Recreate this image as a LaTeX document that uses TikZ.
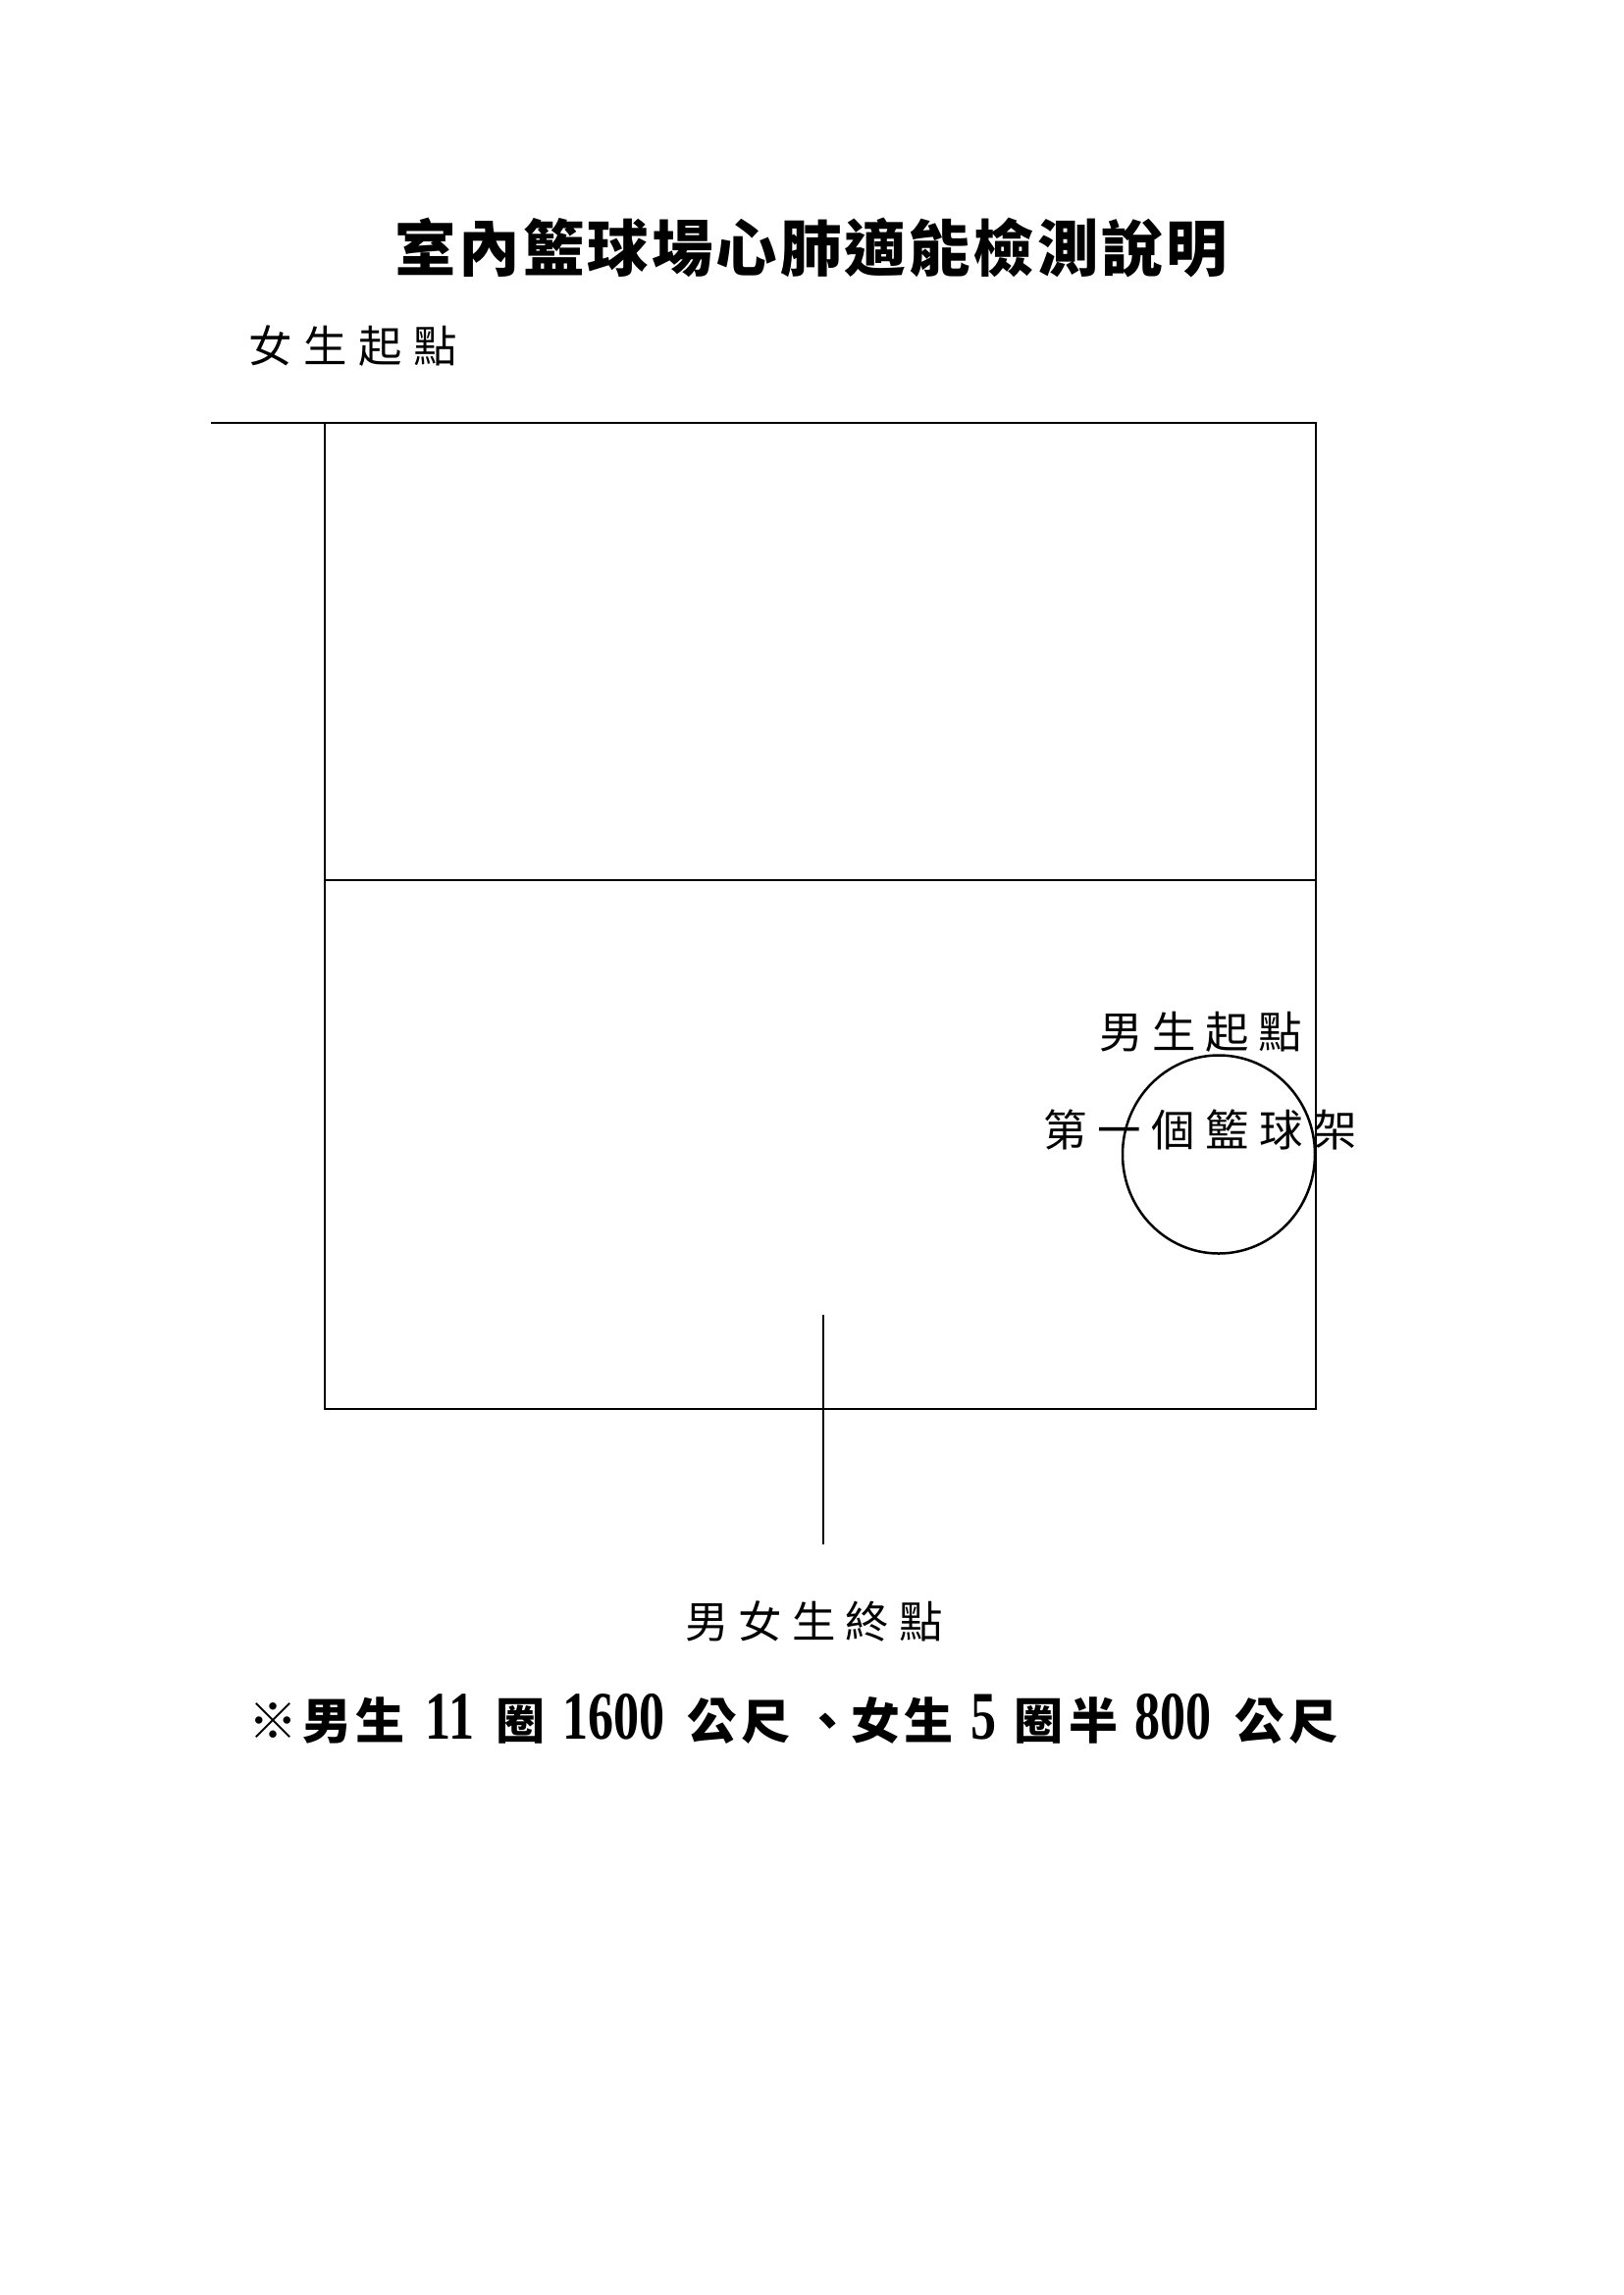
\documentclass[tikz,border=0pt]{standalone}
\usepackage{fontspec}
\newfontfamily\cjk{Noto Sans CJK TC}
\newfontfamily\digitfont{Liberation Serif}[FakeStretch=0.75]
\newdimen\px \px=0.36pt
\ExplSyntaxOn
\NewDocumentCommand\pitched{m m}{\tl_map_inline:nn {#2}{\makebox[#1]{##1}}}
\ExplSyntaxOff
\newcommand\pp[2]{\makebox[0pt]{#1}\hspace{#2\px}}
\newcommand\dg[1]{{\digitfont\bfseries\fontsize{25}{25}\selectfont #1}}
\tikzset{
  lbl/.style={inner sep=0pt, font=\cjk\fontsize{16}{16}\selectfont},
  titlelbl/.style={inner sep=0pt, font=\cjk\bfseries\fontsize{22.5}{22.5}\selectfont},
  notelbl/.style={inner sep=0pt, anchor=west, font=\cjk\bfseries\fontsize{18}{18}\selectfont},
  court/.style={line width=1pt, line cap=rect},
}
\begin{document}
\begin{tikzpicture}[x=0.36pt,y=-0.36pt]
\useasboundingbox (0,0) rectangle (1654,2339);
% court corners
\coordinate (tl) at (331,431);
\coordinate (tr) at (1341,431);
\coordinate (bl) at (331,1436);
\coordinate (br) at (1341,1436);
\coordinate (ml) at (331,897);
\coordinate (mr) at (1341,897);
\coordinate (gs) at (216,431);
\coordinate (ft) at (839,1341);
\coordinate (fb) at (839,1573);
\coordinate (hoop) at (1242,1176.5);
% lines
\draw[court] (gs) -- (tr) -- (br) -- (bl) -- (tl);
\draw[court] (ml) -- (mr);
\draw[court] (ft) -- (fb);
\draw[line width=0.9pt] (hoop) ellipse [x radius=98, y radius=101];
% texts
\node[titlelbl] (title) at (826.5,252) {\pitched{65.5\px}{室內籃球場心肺適能檢測說明}};
\node[lbl] (gstart) at (360,352.5) {\pitched{56\px}{女生起點}};
\node[lbl] (bstart) at (1224,1051.5) {\pitched{54\px}{男生起點}};
\node[lbl] (rack) at (1223.5,1151.5) {\pitched{55\px}{第一個籃球架}};
\node[lbl] (finish) at (829.5,1652.5) {\pitched{54.5\px}{男女生終點}};
\node[notelbl] (note) at (251,1751.5) {\hspace{27\px}\pp{※}{55}\pp{男}{54}\pp{生}{71}\pp{\dg{11}}{72}\pp{圈}{95}\pp{\dg{1600}}{100}\pp{公}{55}\pp{尺}{63}\pp{、}{49}\pp{女}{54}\pp{生}{56}\pp{\dg{5}}{56}\pp{圈}{56}\pp{半}{81}\pp{\dg{800}}{88}\pp{公}{55}\makebox[0pt]{尺}\hspace{27\px}};
\end{tikzpicture}
\end{document}
